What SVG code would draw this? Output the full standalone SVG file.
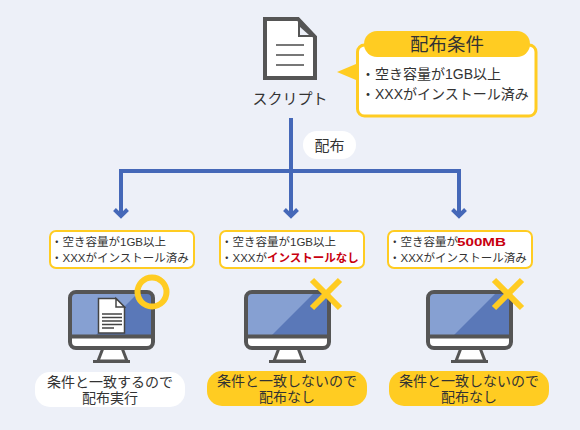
<svg xmlns="http://www.w3.org/2000/svg" width="580" height="430" viewBox="0 0 580 430">
<style>
text{font-family:"Liberation Sans","Noto Sans CJK JP",sans-serif;fill:#333;}
.s{font-size:11.500px}
.m{font-size:14px}
.b{font-size:14px;text-anchor:middle}
.r{fill:#c8000f;font-weight:700}
.box{fill:#fff;stroke:#ffcc22;stroke-width:2}
.scr{fill:#5a78b8}
.lit{fill:#86a0d2}
.mon{fill:none;stroke:#555;stroke-width:4}
.st{fill:#fff;stroke:#555;stroke-width:3}
.con{fill:none;stroke:#4568b8;stroke-width:4}
.x{fill:none;stroke:#ffcc22;stroke-width:6}
.ok{fill:#fff}
.ng{fill:#ffcc22}
</style>
<defs>
<g id="monitor">
<path class="st" d="M35 58 L30 71 H59 L54 58Z"/>
<path d="M25 71.500H62" stroke="#555" stroke-width="3"/>
<rect x="2" y="2" width="83" height="56" rx="6" fill="#fff"/>
<path class="scr" d="M2 46V8a6 6 0 0 1 6-6H79a6 6 0 0 1 6 6V46Z"/>
<path class="lit" d="M2 46V8a6 6 0 0 1 6-6H71L27 46Z"/>
<path d="M2 46.500H85" stroke="#555" stroke-width="4"/>
<rect class="mon" x="2" y="2" width="83" height="56" rx="6"/>
</g>
</defs>
<rect width="580" height="430" fill="#edf0f8"/>
<g id="connectors">
<path class="con" d="M291 118V171M121 215V171H459V215M291 171V215"/>
<path class="con" d="M114.500 209.500L121 216L127.500 209.500M284.500 209.500L291 216L297.500 209.500M452.500 209.500L459 216L465.500 209.500"/>
</g>
<g id="distribute-label">
<rect x="303" y="131" width="53" height="28" rx="14" fill="#fff"/>
<text x="329.500" y="151" font-size="15" text-anchor="middle">配布</text>
</g>
<g id="script">
<path d="M265 19H298L315 37V78H265Z" fill="#fff" stroke="#555" stroke-width="4"/>
<path d="M298 19V37H315Z" fill="#555"/>
<path d="M300 27V35H309Z" fill="#edf0f8"/>
<path d="M276 45H304M276 55H304M276 65H304" stroke="#777" stroke-width="2"/>
<text x="290" y="104" font-size="15" text-anchor="middle">スクリプト</text>
</g>
<g id="conditions">
<rect x="357.500" y="45" width="178.500" height="71" rx="7" fill="#fff" stroke="#ffcc22" stroke-width="3"/>
<path d="M337 72L356 64V80Z" fill="#ffcc22"/>
<rect x="364" y="31" width="166" height="26" rx="13" fill="#ffcc22"/>
<text x="447" y="51" font-size="18.500" text-anchor="middle">配布条件</text>
<text class="m" x="361" y="79">・空き容量が1GB以上</text>
<text class="m" x="361" y="99">・XXXがインストール済み</text>
</g>
<g id="node-1">
<rect class="box" x="50" y="231" width="144" height="37" rx="6"/>
<text class="s" x="51" y="246">・空き容量が1GB以上</text>
<text class="s" x="51" y="262">・XXXがインストール済み</text>
<use href="#monitor" x="68" y="290"/>
<path d="M98.500 298.500H116L124.500 307V333H98.500Z" fill="#fff" stroke="#444" stroke-width="1.500"/>
<path d="M116 298.500V307H124.500Z" fill="#fff" stroke="#444" stroke-width="1.500"/>
<path d="M102 314H122M102 317.500H122M102 321H122M102 324.500H122M102 328H114" stroke="#444" stroke-width="1.500"/>
<circle cx="152" cy="292" r="14.500" fill="none" stroke="#ffcc22" stroke-width="6"/>
<rect class="ok" x="35" y="372" width="150" height="35" rx="15"/>
<text class="b" x="110" y="387">条件と一致するので</text>
<text class="b" x="110" y="403">配布実行</text>
</g>
<g id="node-2">
<rect class="box" x="220" y="231" width="144" height="37" rx="6"/>
<text class="s" x="221" y="246">・空き容量が1GB以上</text>
<text class="s" x="221" y="262">・XXXが<tspan class="r">インストールなし</tspan></text>
<use href="#monitor" x="244" y="290"/>
<path class="x" d="M312 280L340 308M340 280L312 308"/>
<rect class="ng" x="207" y="371" width="160" height="35" rx="15"/>
<text class="b" x="287" y="386">条件と一致しないので</text>
<text class="b" x="287" y="402">配布なし</text>
</g>
<g id="node-3">
<rect class="box" x="388" y="231" width="144" height="37" rx="6"/>
<text class="s" x="389" y="246">・空き容量が</text>
<text class="s r" x="457" y="246" textLength="49" lengthAdjust="spacingAndGlyphs">500MB</text>
<text class="s" x="389" y="262">・XXXがインストール済み</text>
<use href="#monitor" x="426" y="290"/>
<path class="x" d="M494 280L522 308M522 280L494 308"/>
<rect class="ng" x="389" y="371" width="160" height="35" rx="15"/>
<text class="b" x="469" y="386">条件と一致しないので</text>
<text class="b" x="469" y="402">配布なし</text>
</g>
</svg>
